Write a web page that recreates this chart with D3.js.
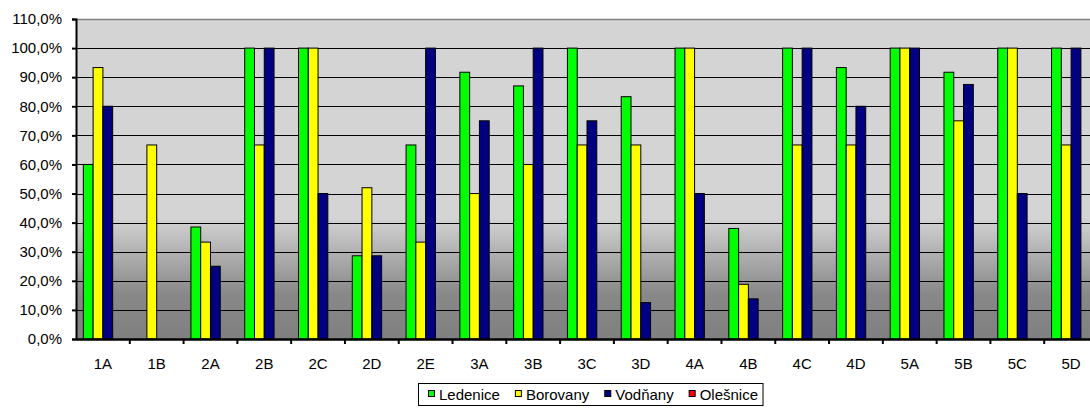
<!DOCTYPE html>
<html><head><meta charset="utf-8">
<script src="https://cdn.jsdelivr.net/npm/d3@7/dist/d3.min.js"></script>
<style>body{margin:0;background:#fff}svg{display:block}text{font-family:"Liberation Sans",Arial,sans-serif}</style>
</head><body><svg id="c" width="1090" height="414"></svg>
<script>
const categories = ["1A","1B","2A","2B","2C","2D","2E","3A","3B","3C","3D","4A","4B","4C","4D","5A","5B","5C","5D"];
const seriesNames = ["Ledenice","Borovany","Vodňany","Olešnice"];
const seriesColors = ["#00ff00","#ffff00","#000080","#ff0000"];
const ledenice = [60,0,38.5,100,100,28.6,66.7,91.7,87,100,83.3,100,38,100,93.3,100,91.7,100,100];
const borovany = [93.3,66.7,33.3,66.7,100,52,33.3,50,60,66.7,66.7,100,18.8,66.7,66.7,100,75,100,66.7];
const vodnany  = [80,0,25,100,50,28.6,100,75,100,75,12.5,50,13.8,100,80,100,87.5,50,100];
const olesnice = [0,0,0,0,0,0,0,0,0,0,0,0,0,0,0,0,0,0,0];
const yTicks = [0,10,20,30,40,50,60,70,80,90,100,110];

const series = [ledenice, borovany, vodnany, olesnice];
const svg = d3.select("#c");
const L = 76, R = 1098, T = 19, B = 339;
const FS = 15;
const x = d3.scaleBand().domain(categories).range([L, R]).paddingInner(0).paddingOuter(0);
const y = d3.scaleLinear().domain([0,110]).range([B, T]);
const fmt = v => d3.format(".1f")(v).replace(".", ",") + "%";

const defs = svg.append("defs");
const g = defs.append("linearGradient").attr("id","bg").attr("x1",0).attr("y1",0).attr("x2",0).attr("y2",1);
[[0,"#d4d4d4"],[0.62,"#d4d4d4"],[0.72,"#b4b4b4"],[0.86,"#888888"],[1,"#808080"]].forEach(s =>
  g.append("stop").attr("offset",s[0]).attr("stop-color",s[1]));

svg.append("rect").attr("x",L).attr("y",T).attr("width",R-L).attr("height",B-T).attr("fill","url(#bg)");

// gridlines
svg.append("g").selectAll("line").data(yTicks.filter(v=>v>0 && v<110)).join("line")
  .attr("x1",L).attr("x2",R).attr("y1",d=>Math.round(y(d))+0.5).attr("y2",d=>Math.round(y(d))+0.5)
  .attr("stroke","#000").attr("stroke-width",1);
// top border
svg.append("line").attr("x1",L).attr("x2",R).attr("y1",T+0.5).attr("y2",T+0.5).attr("stroke","#808080").attr("stroke-width",1.5);

// bars
const bw = x.bandwidth()/5.5;
const sub = d3.scaleBand().domain(d3.range(4)).range([0, bw*4]);
const gg = svg.append("g");
series.forEach((vals, si) => {
  gg.append("g").selectAll("rect").data(vals.map((v,i)=>({c:categories[i],v})).filter(d=>d.v>0)).join("rect")
    .attr("x", d => x(d.c) + bw*0.75 + sub(si))
    .attr("y", d => y(d.v))
    .attr("width", sub.bandwidth())
    .attr("height", d => B - y(d.v))
    .attr("fill", seriesColors[si]).attr("stroke","#000").attr("stroke-width",1);
});

// axes
const ya = d3.axisLeft(y).tickValues(yTicks).tickFormat(fmt).tickSize(4).tickPadding(10);
const yg = svg.append("g").attr("transform",`translate(${L},0)`).call(ya)
  .attr("font-size", FS).attr("font-family", null);
yg.select(".domain").attr("stroke","#000").attr("stroke-width",2);
yg.selectAll(".tick line").attr("stroke","#000").attr("stroke-width",2);
yg.selectAll("text").style("font-size",FS+"px").attr("fill","#000").attr("x",-14);

const xa = d3.axisBottom(x).tickSize(0).tickPadding(19);
const xg = svg.append("g").attr("transform",`translate(0,${B})`).call(xa)
  .attr("font-size", FS).attr("font-family", null);
xg.select(".domain").attr("stroke","#000").attr("stroke-width",2.5);
xg.selectAll("text").style("font-size",FS+"px").attr("fill","#000");
// category boundary ticks
svg.append("g").selectAll("line").data(categories.slice(1)).join("line")
  .attr("x1",d=>x(d)).attr("x2",d=>x(d)).attr("y1",B).attr("y2",B+5).attr("stroke","#000").attr("stroke-width",2);

// legend
const lg = svg.append("g");
const box = lg.append("rect").attr("x",418.5).attr("y",383.5).attr("height",22).attr("fill","#fff").attr("stroke","#000");
let cx = 428;
seriesNames.forEach((n,i)=>{
  lg.append("rect").attr("x",cx+0.5).attr("y",390.5).attr("width",6).attr("height",6).attr("fill",seriesColors[i]).attr("stroke","#000");
  const t = lg.append("text").attr("x",cx+11).attr("y",400).style("font-size",FS+"px").text(n);
  cx = cx + 11 + t.node().getComputedTextLength() + 15;
});
box.attr("width", cx - 15 + 5 - 418.5);
</script></body></html>
